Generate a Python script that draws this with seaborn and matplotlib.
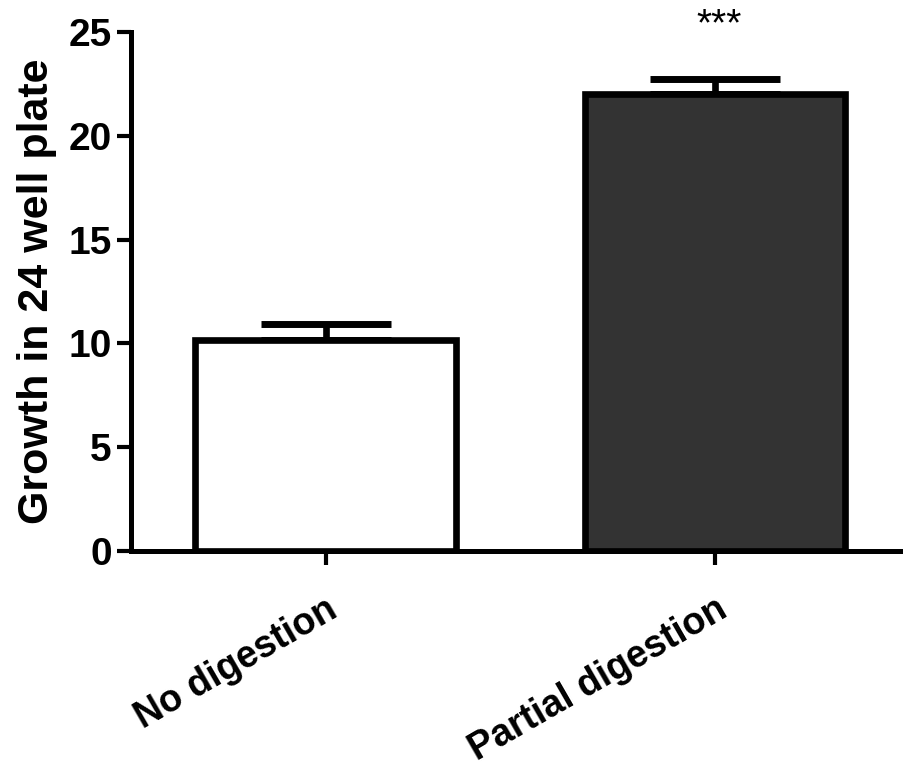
import matplotlib
matplotlib.use("Agg")
import matplotlib.pyplot as plt
import seaborn as sns
import pandas as pd

# Data
groups = ["No digestion", "Partial digestion"]
means = [10.15, 22.0]
sems = [0.8, 0.75]
bar_colors = ["#ffffff", "#333333"]
significance = ["", "***"]
y_ticks = [0, 5, 10, 15, 20, 25]

sns.set_style("ticks", {"axes.edgecolor": "black", "xtick.color": "black",
                        "ytick.color": "black", "text.color": "black",
                        "axes.labelcolor": "black"})
plt.rcParams['font.family'] = ['Liberation Sans', 'DejaVu Sans']

df = pd.DataFrame({"group": groups, "growth": means})

fig = plt.figure(figsize=(9.04, 7.62), dpi=100)
ax = fig.add_axes([0.145, 0.277, 0.851, 0.681])

# error bars first so the bars hide the stem inside the bar
ax.errorbar(range(len(groups)), means, yerr=[[0] * len(sems), sems],
            fmt="none", ecolor="black", elinewidth=4.8, capsize=47,
            capthick=5, zorder=1, solid_capstyle="round")

sns.barplot(data=df, x="group", y="growth", hue="group", palette=bar_colors,
            legend=False, width=0.67, edgecolor="black", linewidth=4.8,
            errorbar=None, ax=ax, zorder=2)

for i, label in enumerate(significance):
    if label:
        ax.text(i + 0.01, means[i] + sems[i] + 2.55, label, ha="center", va="center",
                fontsize=28, color="black", clip_on=False)

ax.set_ylim(0, 25)
ax.set_xlim(-0.5, 1.476)
ax.set_yticks(y_ticks)
ax.set_ylabel("Growth in 24 well plate", fontsize=31, fontweight="bold", labelpad=8)
ax.set_xlabel("")

for side in ["left", "bottom"]:
    ax.spines[side].set_linewidth(3.6)
sns.despine(ax=ax)

ax.tick_params(axis="y", length=10, width=3, labelsize=28, pad=4)
ax.tick_params(axis="x", length=10, width=3, labelsize=27, pad=19)
for lab in ax.get_yticklabels():
    lab.set_fontweight("bold")
for lab in ax.get_xticklabels():
    lab.set_fontweight("bold")
    lab.set_rotation(30)
    lab.set_ha("right")
    lab.set_rotation_mode("anchor")

fig.savefig("out.png", dpi=100)
